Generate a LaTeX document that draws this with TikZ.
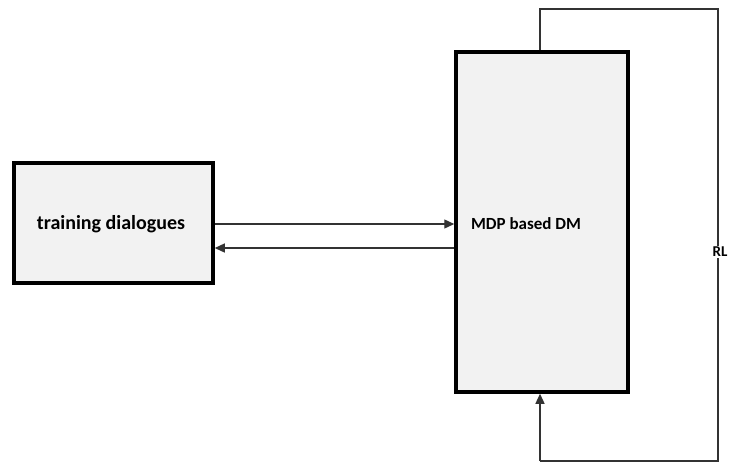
\documentclass[tikz,border=0pt]{standalone}
\usepackage{fontspec}
\setmainfont{Carlito}
\usetikzlibrary{arrows.meta}
\begin{document}
\begin{tikzpicture}[x=1pt,y=-1pt,
  blockbox/.style={draw=black, line width=3.5pt, fill=gray!10, inner sep=0pt},
  conn/.style={draw=black!80, line width=1.3pt},
  tip/.style={-{Triangle[length=10pt,width=9pt]}},
  lbl/.style={font=\fontsize{20}{24}\selectfont\bfseries}]
\useasboundingbox (0,0) rectangle (729,464);
\node[blockbox, minimum width=199pt, minimum height=120pt] (td) at (113.5,223) {};
\node[lbl] (tdt) at (111,224) {training dialogues};
\node[blockbox, minimum width=172pt, minimum height=340pt] (dm) at (542,222) {};
\node[lbl, font=\fontsize{17}{21}\selectfont\bfseries] (dmt) at (526,224) {MDP based DM};
\coordinate (c1) at (540,9);
\coordinate (c2) at (718,9);
\coordinate (c3) at (718,461);
\coordinate (c4) at (540,461);
\draw[conn, tip] (td.east |- 0,224) -- (dm.west |- 0,224);
\draw[conn, tip] (dm.west |- 0,248) -- (td.east |- 0,248);
\draw[conn] (dm.north -| c1) -- (c1) -- (c2) -- (c3) -- (c4);
\draw[conn, tip] (c4) -- (dm.south -| c4);
\node[font=\fontsize{15}{18}\selectfont\bfseries, fill=white, inner sep=1pt] (rl) at (720,252) {RL};
\end{tikzpicture}
\end{document}
